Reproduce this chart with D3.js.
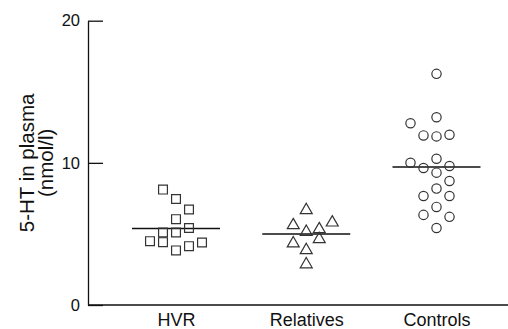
<!DOCTYPE html>
<html>
<head>
<meta charset="utf-8">
<script src="https://cdn.jsdelivr.net/npm/d3@7/dist/d3.min.js"></script>
<style>
  html, body { margin: 0; padding: 0; background: #fff; }
  svg { display: block; }
  text { font-family: "Liberation Sans", Arial, Helvetica, sans-serif; fill: #111; }
</style>
</head>
<body>
<svg id="chart" width="508" height="329"></svg>
<script>
// ---- data ----
const groups = ["HVR", "Relatives", "Controls"];
const hvrValues = [8.12, 7.46, 6.72, 6.04, 5.10, 5.10, 5.42, 4.49, 4.42, 4.40, 4.14, 3.84];
const hvrSlots  = [-1, 0, 1, 0, -1, 0, 1, -2, -1, 2, 1, 0];
const relValues = [6.67, 5.61, 5.80, 5.14, 5.33, 4.33, 4.63, 3.86, 2.86];
const relSlots  = [0, -1, 2, 0, 1, -1, 1, 0, 0];
const ctlValues = [16.26, 13.21, 12.79, 11.93, 11.86, 11.98, 10.29, 10.01, 9.64, 9.78, 9.31, 8.72, 8.19, 7.67, 7.67, 6.90, 6.34, 6.20, 5.42];
const ctlSlots  = [0, 0, -2, -1, 0, 1, 0, -2, -1, 1, 0, 1, 0, -1, 1, 0, -1, 1, 0];
const medians = [5.38, 5.0, 9.71];
const yTicks = [0, 10, 20];
const yLabelLines = ["5-HT in plasma", "(nmol/l)"];

// ---- layout ----
const W = 508, H = 329;
const axisX = 88, axisTop = 20.7, axisBottom = 305;
const svg = d3.select("#chart");

const y = d3.scaleLinear().domain([0, 20]).range([axisBottom, axisTop]);
const x = d3.scalePoint().domain(groups).range([176, 436.5]);
const slot = d3.scaleLinear().domain([-1, 1]).range([-13, 13]);

const symbols = [d3.symbolSquare, d3.symbolTriangle, d3.symbolCircle];
const symSizes = [78, 62, 68];
const series = [
  { g: groups[0], values: hvrValues, slots: hvrSlots },
  { g: groups[1], values: relValues, slots: relSlots },
  { g: groups[2], values: ctlValues, slots: ctlSlots }
];

// Y axis (ticks pointing inward)
const yAxis = d3.axisLeft(y).tickValues(yTicks).tickFormat(d3.format("d"))
  .tickSizeInner(-15).tickSizeOuter(0).tickPadding(8);
const gy = svg.append("g").attr("transform", `translate(${axisX},0)`).call(yAxis);
gy.select(".domain").attr("stroke", "#111").attr("stroke-width", 1.3);
gy.selectAll(".tick line").attr("stroke", "#111").attr("stroke-width", 1.3);
gy.selectAll(".tick text").style("font-size", "16.5px").attr("fill", "#111")
  .style("font-family", "'Liberation Sans', Arial, sans-serif");

// X axis baseline
svg.append("line").attr("x1", axisX).attr("x2", W)
  .attr("y1", axisBottom).attr("y2", axisBottom)
  .attr("stroke", "#111").attr("stroke-width", 1.3);

// X category labels
const xAxis = d3.axisBottom(x).tickSize(0).tickPadding(8);
const gx = svg.append("g").attr("transform", `translate(0,${axisBottom})`).call(xAxis);
gx.select(".domain").remove();
gx.selectAll(".tick text").style("font-size", "18px").attr("fill", "#111")
  .style("font-family", "'Liberation Sans', Arial, sans-serif");

// Y label
const yl = svg.append("text")
  .attr("transform", `translate(0,${(axisTop + axisBottom) / 2}) rotate(-90)`)
  .attr("text-anchor", "middle").style("font-size", "20.5px");
yl.selectAll("tspan").data(yLabelLines).join("tspan")
  .attr("x", 0).attr("y", (d, i) => 34 + i * 19)
  .text(d => d);

// Median lines
svg.append("g").selectAll("line").data(groups).join("line")
  .attr("x1", d => x(d) - 44).attr("x2", d => x(d) + 44)
  .attr("y1", (d, i) => y(medians[i])).attr("y2", (d, i) => y(medians[i]))
  .attr("stroke", "#111").attr("stroke-width", 1.6);

// Points
series.forEach((s, si) => {
  const sym = d3.symbol().type(symbols[si]).size(symSizes[si]);
  svg.append("g").selectAll("path").data(s.values).join("path")
    .attr("d", sym)
    .attr("transform", (v, i) => `translate(${x(s.g) + slot(s.slots[i])},${y(v)})`)
    .attr("fill", "none")
    .attr("stroke", "#333").attr("stroke-width", 1.2);
});
</script>
</body>
</html>
